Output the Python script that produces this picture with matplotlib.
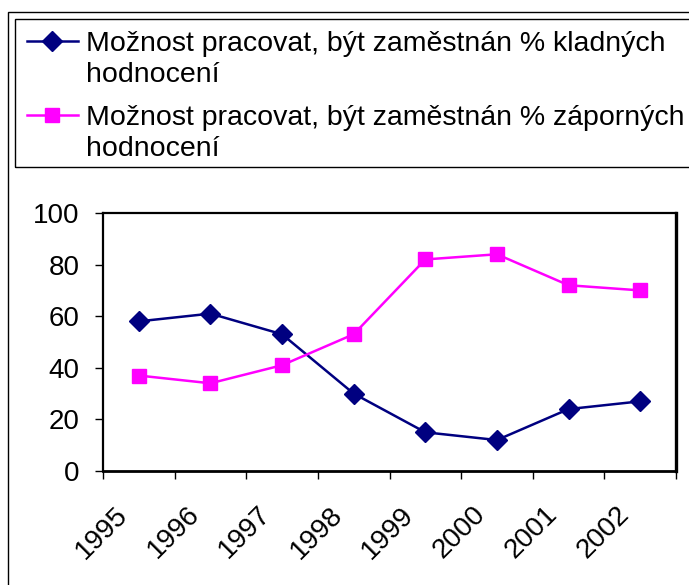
import matplotlib
matplotlib.use("Agg")
import matplotlib.pyplot as plt
from matplotlib.patches import Rectangle
from matplotlib.legend_handler import HandlerLine2D
import matplotlib.transforms as mtransforms

years = ["1995", "1996", "1997", "1998", "1999", "2000", "2001", "2002"]
kladne = [58, 61, 53, 30, 15, 12, 24, 27]
zaporne = [37, 34, 41, 53, 82, 84, 72, 70]
label_k = "Možnost pracovat, být zaměstnán % kladných\nhodnocení"
label_z = "Možnost pracovat, být zaměstnán % záporných\nhodnocení"

plt.rcParams['font.family'] = ['Liberation Sans', 'DejaVu Sans']

W, H = 689, 585
fig = plt.figure(figsize=(W / 100, H / 100), dpi=100)

# outer chart frame
fig.patches.append(Rectangle((8 / W, -0.1), 1.2, 1 - 12 / H + 0.1, transform=fig.transFigure,
                             fill=False, edgecolor='black', linewidth=1.0))
# legend frame
fig.patches.append(Rectangle((15 / W, 1 - 167 / H), 1.2, (167 - 19) / H, transform=fig.transFigure,
                             fill=False, edgecolor='black', linewidth=1.0))

ax = fig.add_axes([103 / W, 1 - 471 / H, (676 - 103) / W, (471 - 213) / H])
x = [i + 0.5 for i in range(len(years))]
l1, = ax.plot(x, kladne, color='#000080', marker='D', markersize=10, linewidth=1.8, label=label_k)
l2, = ax.plot(x, zaporne, color='#FF00FF', marker='s', markersize=10.5, linewidth=1.8, label=label_z)

ax.set_xlim(0, len(years))
ax.set_ylim(0, 100)
ax.set_yticks(range(0, 101, 20))
ax.set_xticks(range(len(years) + 1))
ax.set_xticklabels([])
ax.set_xticks(x, minor=True)
ax.set_xticklabels(years, minor=True, rotation=45, ha='right', va='top')
ax.tick_params(axis='x', which='minor', length=0, pad=22, labelsize=20)
ax.tick_params(axis='x', which='major', length=6, width=1.0, direction='out')
ax.tick_params(axis='y', length=6, width=1.0, direction='out', labelsize=20, pad=11)
for s in ax.spines.values():
    s.set_linewidth(1.6)
    s.set_color('black')
ax.spines['right'].set_linewidth(2.4)
ax.spines['bottom'].set_linewidth(2.0)

offset = mtransforms.ScaledTranslation(-6 / 100, 0, fig.dpi_scale_trans)
for lab in ax.get_xticklabels(minor=True):
    lab.set_transform(lab.get_transform() + offset)


class TopLineHandler(HandlerLine2D):
    """Place the legend handle level with the first line of a two-line label."""
    def create_artists(self, legend, orig_handle, xdescent, ydescent, width, height,
                       fontsize, trans):
        trans = trans + mtransforms.Affine2D().translate(0, 19)
        return super().create_artists(legend, orig_handle, xdescent, ydescent, width,
                                      height, fontsize, trans)


leg = fig.legend(handles=[l1, l2], loc='upper left',
                 bbox_to_anchor=(15 / W, 1 - 19 / H),
                 fontsize=20.5, frameon=False,
                 handlelength=1.79, handletextpad=0.28, borderpad=0.42, labelspacing=0.58,
                 borderaxespad=0,
                 handler_map={l1: TopLineHandler(), l2: TopLineHandler()})
for t in leg.get_texts():
    t.set_linespacing(1.27)

fig.savefig("out.png", dpi=100)
